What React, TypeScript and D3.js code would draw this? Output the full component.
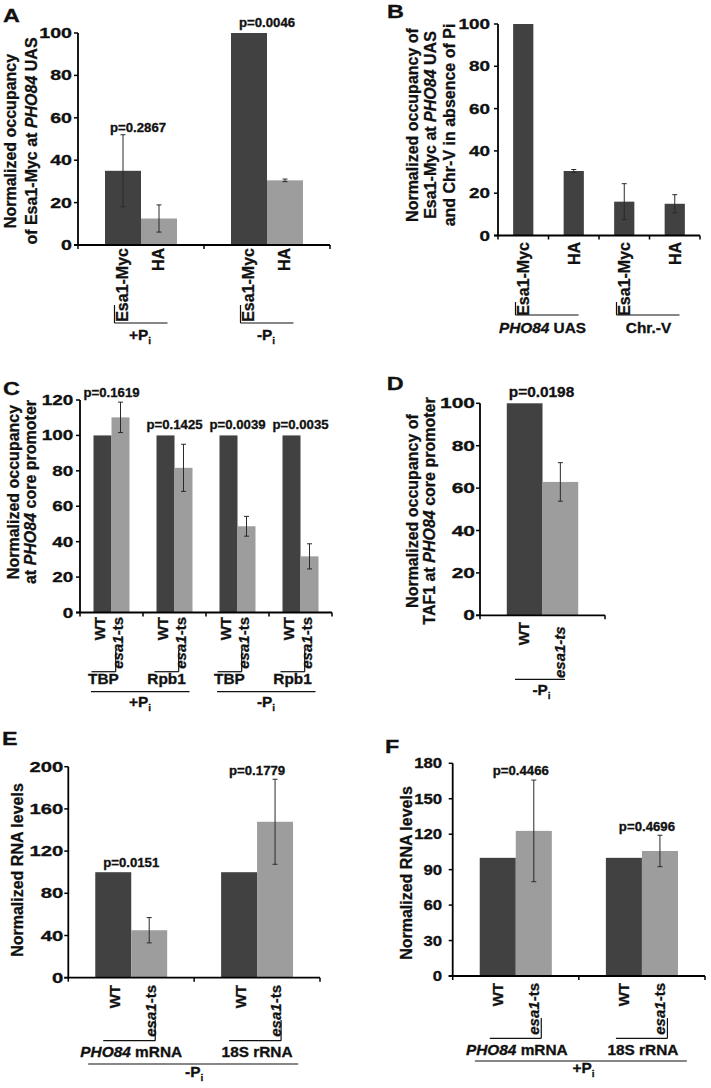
import React from "react";
import * as d3 from "d3";

const FONT = "'Liberation Sans', Arial, Helvetica, sans-serif";
const DARK = "#414141";
const LIGHT = "#9d9d9d";

// ---------------- DATA ----------------
// Panel A
const aGroups = ["+P_i", "-P_i"];
const aSeries = ["Esa1-Myc", "HA"];
const aValues = [[35, 12.5], [100, 30.5]];
const aErrors = [[17, 6.4], [0, 0.6]];
const aPValues = ["p=0.2867", "p=0.0046"];
const aTicks = [0, 20, 40, 60, 80, 100];

// Panel B
const bCategories = ["Esa1-Myc", "HA", "Esa1-Myc", "HA"];
const bGroups = ["*PHO84* UAS", "Chr.-V"];
const bValues = [100, 30.5, 16, 15];
const bErrors = [0, 0.7, 8.5, 4.3];
const bTicks = [0, 20, 40, 60, 80, 100];

// Panel C
const cTargets = ["TBP", "Rpb1", "TBP", "Rpb1"];
const cConditions = ["+P_i", "-P_i"];
const cStrains = ["WT", "*esa1*-ts"];
const cWT = [100, 100, 100, 100];
const cMutant = [110.2, 81.7, 48.7, 31.7];
const cMutantErr = [8.6, 13.3, 5.6, 7.1];
const cPValues = ["p=0.1619", "p=0.1425", "p=0.0039", "p=0.0035"];
const cTicks = [0, 20, 40, 60, 80, 100, 120];

// Panel D
const dStrains = ["WT", "*esa1-ts*"];
const dValues = [100, 62.9];
const dErrors = [0, 9.1];
const dPValues = ["p=0.0198"];
const dTicks = [0, 20, 40, 60, 80, 100];

// Panel E
const eGenes = ["*PHO84* mRNA", "18S rRNA"];
const eStrains = ["WT", "*esa1*-ts"];
const eWT = [100, 100];
const eMutant = [45, 147.8];
const eMutantErr = [12, 40.3];
const ePValues = ["p=0.0151", "p=0.1779"];
const eTicks = [0, 40, 80, 120, 160, 200];

// Panel F
const fGenes = ["*PHO84* mRNA", "18S rRNA"];
const fStrains = ["WT", "*esa1*-ts"];
const fWT = [100, 100];
const fMutant = [122.8, 105.8];
const fMutantErr = [43, 13.3];
const fPValues = ["p=0.4466", "p=0.4696"];
const fTicks = [0, 30, 60, 90, 120, 150, 180];

// ---------------- TEXT HELPERS ----------------
type Seg = { t: string; i?: boolean; sub?: boolean };
function rich(s: string): Seg[] {
  const out: Seg[] = [];
  const re = /\*([^*]+)\*|_(\w+)|([^*_]+)/g;
  let m: RegExpExecArray | null;
  while ((m = re.exec(s))) {
    if (m[1]) out.push({ t: m[1], i: true });
    else if (m[2]) out.push({ t: m[2], sub: true });
    else out.push({ t: m[3] });
  }
  return out;
}

function Txt({ x, y, s, size, sx = 1, anchor = "middle", rot = false, dy }: any) {
  const segs = rich(s);
  const tf = `translate(${x},${y}) scale(${sx},1)` + (rot ? " rotate(-90)" : "");
  return (
    <text
      transform={tf}
      textAnchor={anchor}
      fontFamily={FONT}
      fontWeight="bold"
      fontSize={size}
      dy={dy}
      fill="#111"
      stroke="#111"
      strokeWidth={0.3}
    >
      {segs.map((g, k) => (
        <tspan
          key={k}
          fontStyle={g.i ? "italic" : "normal"}
          fontSize={g.sub ? size * 0.65 : size}
          dy={g.sub ? size * 0.28 : undefined}
        >
          {g.t}
        </tspan>
      ))}
    </text>
  );
}

type Bracket = {
  g: number[];
  l: number;
  r: number;
  y: number;
  v?: "l" | "r";
  vTop?: number;
  label: string;
  ldx: number;
  ly: number;
};

function BarPanel(p: any) {
  const nG = p.values.length;
  const nS = p.values[0].length;
  const gx = d3.scaleBand<number>().domain(d3.range(nG)).range([p.x0, p.x1]).padding(0);
  const bx = d3
    .scaleBand<number>()
    .domain(d3.range(nS))
    .range([0, gx.bandwidth()])
    .paddingInner(0)
    .paddingOuter(0.75);
  const y = d3.scaleLinear().domain([0, p.max]).range([p.yBot, p.yTop]);
  const gc = (g: number) => (gx(g) as number) + gx.bandwidth() / 2;
  const bc = (g: number, s: number) => (gx(g) as number) + (bx(s) as number) + bx.bandwidth() / 2;
  const boundaries = [...d3.range(nG).map((g) => gx(g) as number), p.x1];

  return (
    <g>
      <Txt x={p.letter[1]} y={p.letter[2]} s={p.letter[0]} size={18} sx={1.3} anchor="start" />
      {p.titles.map((t: string, k: number) => (
        <Txt key={k} x={p.titleXs[k]} y={p.titleCy} s={t} size={16} rot />
      ))}
      {/* bars */}
      {p.values.map((row: number[], g: number) =>
        row.map((v: number, s: number) => (
          <rect
            key={`b${g}-${s}`}
            x={(gx(g) as number) + (bx(s) as number)}
            y={y(v)}
            width={bx.bandwidth()}
            height={p.yBot - y(v)}
            fill={p.colors[s]}
          />
        ))
      )}
      {/* error bars */}
      {p.errors.map((row: number[], g: number) =>
        row.map((e: number, s: number) => {
          if (!e) return null;
          const v = p.values[g][s];
          const cx = bc(g, s);
          return (
            <g key={`e${g}-${s}`} stroke="#2a2a2a" strokeWidth={1}>
              <line x1={cx} x2={cx} y1={y(v - e)} y2={y(v + e)} />
              <line x1={cx - 2.5} x2={cx + 2.5} y1={y(v - e)} y2={y(v - e)} />
              <line x1={cx - 2.5} x2={cx + 2.5} y1={y(v + e)} y2={y(v + e)} />
            </g>
          );
        })
      )}
      {/* axes */}
      <line x1={p.x0} x2={p.x0} y1={p.yTop} y2={p.yBot} stroke="#000" strokeWidth={1.8} />
      <line x1={p.x0 - 4} x2={p.x1} y1={p.yBot} y2={p.yBot} stroke="#000" strokeWidth={1.8} />
      {p.ticks.map((t: number) => (
        <g key={`t${t}`}>
          <line x1={p.x0 - 4} x2={p.x0} y1={y(t)} y2={y(t)} stroke="#000" strokeWidth={1.5} />
          <Txt x={p.x0 - p.tickGap} y={y(t) + 5} s={String(t)} size={14} sx={p.tickSx} anchor="end" />
        </g>
      ))}
      {boundaries.map((b: number, k: number) => (
        <line key={`xt${k}`} x1={b} x2={b} y1={p.yBot} y2={p.yBot + 4} stroke="#000" strokeWidth={1.5} />
      ))}
      {/* p values */}
      {p.pLabels.map((t: string, g: number) => (
        <Txt key={`p${g}`} x={gc(g) + p.pDx[g]} y={y(p.pYs[g])} s={t} size={p.pSize} sx={1.1} />
      ))}
      {/* x labels */}
      {p.values.map((row: number[], g: number) =>
        row.map((_v: number, s: number) => {
          const lbl = p.xLabels[g][s];
          const start = p.xLabelStartY && p.xLabelStartY[s] != null;
          return (
            <Txt
              key={`xl${g}-${s}`}
              x={bc(g, s) + p.xlDx}
              y={start ? p.xLabelStartY[s] : p.xLabelTop}
              s={lbl}
              size={p.xlSize}
              rot
              anchor={start ? "start" : "end"}
              dy="0.36em"
            />
          );
        })
      )}
      {/* brackets */}
      {p.brackets.map((br: Bracket, k: number) => {
        const c = d3.mean(br.g.map(gc)) as number;
        const xl = c + br.l;
        const xr = c + br.r;
        return (
          <g key={`br${k}`}>
            <line x1={xl} x2={xr} y1={br.y} y2={br.y} stroke="#111" strokeWidth={1.2} />
            {br.v ? (
              <line
                x1={br.v === "l" ? xl : xr}
                x2={br.v === "l" ? xl : xr}
                y1={br.vTop}
                y2={br.y}
                stroke="#111"
                strokeWidth={1.2}
              />
            ) : null}
            <Txt x={c + br.ldx} y={br.ly} s={br.label} size={14} sx={1.1} />
          </g>
        );
      })}
    </g>
  );
}

export default function App() {
  const panelA = {
    letter: ["A", 3, 22],
    titles: ["Normalized occupancy", "of Esa1-Myc at *PHO84* UAS"],
    titleXs: [15.6, 37],
    titleCy: 141,
    x0: 78, x1: 330, yTop: 33, yBot: 245, max: 100, ticks: aTicks, tickGap: 6, tickSx: 1.4,
    values: aValues, errors: aErrors, colors: [DARK, LIGHT],
    pLabels: aPValues, pYs: [53.3, 102.8], pDx: [-3, 0], pSize: 12,
    xLabels: aGroups.map(() => aSeries), xLabelTop: 248, xlDx: -1, xlSize: 16,
    brackets: aGroups.map((gName, g) => ({
      g: [g], l: -26.5, r: 26.5, y: 323, v: "l", vTop: 305, label: gName, ldx: -1, ly: 340,
    })),
  };

  const panelB = {
    letter: ["B", 387, 18],
    titles: ["Normalized occupancy of", "Esa1-Myc at *PHO84* UAS", "and Chr-V in absence of Pi"],
    titleXs: [417.7, 435.7, 454.7],
    titleCy: 125,
    x0: 498, x1: 700, yTop: 24, yBot: 235.5, max: 100, ticks: bTicks, tickGap: 8, tickSx: 1.35,
    values: bValues.map((v) => [v]), errors: bErrors.map((e) => [e]), colors: [DARK],
    pLabels: [], pYs: [], pDx: [], pSize: 12,
    xLabels: bCategories.map((c) => [c]), xLabelTop: 242, xlDx: 0, xlSize: 16,
    brackets: bGroups.map((gName, k) => ({
      g: [2 * k, 2 * k + 1], l: -33, r: 30, y: 315, v: "l", vTop: 302, label: gName, ldx: k === 0 ? -6 : -1, ly: 333,
    })),
  };

  const panelC = {
    letter: ["C", 3, 395],
    titles: ["Normalized occupancy", "at *PHO84* core promoter"],
    titleXs: [19, 36.3],
    titleCy: 492,
    x0: 80, x1: 332, yTop: 400, yBot: 612.5, max: 120, ticks: cTicks, tickGap: 6.7, tickSx: 1.35,
    values: cWT.map((w, g) => [w, cMutant[g]]),
    errors: cWT.map((_w, g) => [0, cMutantErr[g]]),
    colors: [DARK, LIGHT],
    pLabels: cPValues, pYs: [121.7, 103.6, 103.6, 103.6], pDx: [0, 0, 0, 0], pSize: 12,
    xLabels: cTargets.map(() => cStrains), xLabelTop: 617, xlDx: -3, xlSize: 15,
    brackets: [
      ...cTargets.map((t, g) => ({
        g: [g], l: -20, r: 4.2, y: 671.7, v: "r", vTop: 650, label: t, ldx: -8, ly: 684,
      })),
      ...cConditions.map((c, k) => ({
        g: [2 * k, 2 * k + 1], l: -52, r: 46.5, y: 691.7, label: c, ldx: -3, ly: 707,
      })),
    ],
  };

  const panelD = {
    letter: ["D", 386.7, 390],
    titles: ["Normalized occupancy of", "TAF1 at *PHO84* core promoter"],
    titleXs: [418, 434.7],
    titleCy: 511,
    x0: 480, x1: 605, yTop: 403.3, yBot: 615.3, max: 100, ticks: dTicks, tickGap: 5, tickSx: 1.5,
    values: [dValues], errors: [dErrors], colors: [DARK, LIGHT],
    pLabels: dPValues, pYs: [103.1], pDx: [-1], pSize: 14,
    xLabels: [dStrains], xLabelTop: 622, xLabelStartY: [null, 678], xlDx: -1, xlSize: 15,
    brackets: [{ g: [0], l: -27.5, r: 22.5, y: 679.3, label: "-P_i", ldx: -1, ly: 695 }],
  };

  const panelE = {
    letter: ["E", 2, 745],
    titles: ["Normalized RNA levels"],
    titleXs: [22.7],
    titleCy: 870,
    x0: 68.3, x1: 320, yTop: 766.7, yBot: 977.7, max: 200, ticks: eTicks, tickGap: 5, tickSx: 1.45,
    values: eWT.map((w, g) => [w, eMutant[g]]),
    errors: eWT.map((_w, g) => [0, eMutantErr[g]]),
    colors: [DARK, LIGHT],
    pLabels: ePValues, pYs: [104.9, 192.1], pDx: [0, 0], pSize: 12,
    xLabels: eGenes.map(() => eStrains), xLabelTop: 985, xlDx: 1, xlSize: 15,
    brackets: [
      ...eGenes.map((t, g) => ({
        g: [g], l: -28, r: 24, y: 1040.7, v: "r", vTop: 1020, label: t, ldx: 0, ly: 1057.3,
      })),
      { g: [0, 1], l: -106, r: 104, y: 1064, label: "-P_i", ldx: 0, ly: 1077 },
    ],
  };

  const panelF = {
    letter: ["F", 385, 753],
    titles: ["Normalized RNA levels"],
    titleXs: [411.7],
    titleCy: 873,
    x0: 452.7, x1: 705, yTop: 763.3, yBot: 976, max: 180, ticks: fTicks, tickGap: 10.5, tickSx: 1.2,
    values: fWT.map((w, g) => [w, fMutant[g]]),
    errors: fWT.map((_w, g) => [0, fMutantErr[g]]),
    colors: [DARK, LIGHT],
    pLabels: fPValues, pYs: [170, 122.7], pDx: [5, 5], pSize: 12,
    xLabels: fGenes.map(() => fStrains), xLabelTop: 983, xlDx: 0, xlSize: 15,
    brackets: [
      ...fGenes.map((t, g) => ({
        g: [g], l: -26, r: 25.5, y: 1038.3, v: "r", vTop: 1018, label: t, ldx: 1, ly: 1055,
      })),
      { g: [0, 1], l: -104, r: 108, y: 1061, label: "+P_i", ldx: 4.6, ly: 1073 },
    ],
  };

  return (
    <svg
      width={711}
      height={1088}
      viewBox="0 0 711 1088"
      style={{ position: "absolute", left: 0, top: 0, background: "#fff", display: "block" }}
    >
      <rect x={0} y={0} width={711} height={1088} fill="#fff" />
      <BarPanel {...panelA} />
      <BarPanel {...panelB} />
      <BarPanel {...panelC} />
      <BarPanel {...panelD} />
      <BarPanel {...panelE} />
      <BarPanel {...panelF} />
    </svg>
  );
}
